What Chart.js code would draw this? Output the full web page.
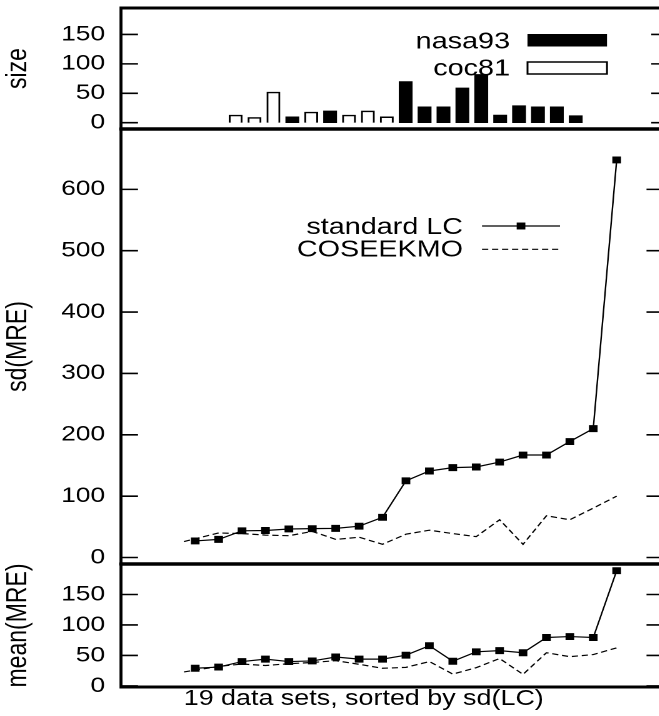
<!DOCTYPE html>
<html>
<head>
<meta charset="utf-8">
<title>sd(MRE) and mean(MRE) for 19 data sets</title>
<script src="https://cdn.jsdelivr.net/npm/chart.js@4.4.1/dist/chart.umd.min.js"></script>
<style>
  html, body { margin: 0; padding: 0; background: #fff; overflow: hidden; }
  /* the original figure is stretched sideways, so the whole drawing is too */
  #figure { position: absolute; left: 0; top: 0; width: 536px; height: 716px;
            transform: scaleX(1.25); transform-origin: 0 0; }
  #figure canvas { position: absolute; left: 0; }
  #xTitle { position: absolute; left: 0; width: 582px; top: 688px; text-align: center;
            font-family: 'Liberation Sans', Arial, sans-serif; font-size: 21.5px;
            line-height: 1; color: #000; white-space: nowrap; }
</style>
</head>
<body>
<div id="figure">
  <canvas id="sizeChart" width="536" height="140" style="top:0px"></canvas>
  <canvas id="sdChart" width="536" height="455" style="top:120px"></canvas>
  <canvas id="meanChart" width="536" height="161" style="top:555px"></canvas>
  <div id="xTitle">19 data sets, sorted by sd(LC)</div>
</div>
<script>
// data sets, sorted by sd(LC)
const setNo = [1, 2, 3, 4, 5, 6, 7, 8, 9, 10, 11, 12, 13, 14, 15, 16, 17, 18, 19];
const sizeValues = [13, 9, 52, 10, 18, 20, 13, 20, 10, 70, 27, 27, 59, 82, 13, 29, 27, 27, 12];
const sizeSource = ['coc81', 'coc81', 'coc81', 'nasa93', 'coc81', 'nasa93', 'coc81', 'coc81', 'coc81',
  'nasa93', 'nasa93', 'nasa93', 'nasa93', 'nasa93', 'nasa93', 'nasa93', 'nasa93', 'nasa93', 'nasa93'];

const sdLC = [27, 29.5, 43.5, 44, 46.5, 47, 47.5, 51, 65.5, 125, 141, 146.5, 147.5, 155.5, 167, 167, 189, 210, 648];
const meanLC = [29, 31, 40, 44, 40, 41, 47.5, 44, 44, 50.5, 66, 40.5, 56, 58, 54.5, 79.5, 81, 79.5, 189];

// the COSEEKMO curve starts a little left of the first data set
const coseekmoX = [0.52, 2, 3, 4, 5, 6, 7, 8, 9, 10, 11, 12, 13, 14, 15, 16, 17, 18, 19];
const sdCOSEEKMO = [26, 40, 39, 36.5, 35.5, 42.5, 29.5, 33, 21.5, 38, 44.5, 39, 34, 61.5, 21.5, 68, 61.5, 80.5, 100];
const meanCOSEEKMO = [23, 32, 36, 33.5, 36.5, 38.5, 41.5, 35.5, 29, 30.5, 40, 19.5, 30, 45, 19, 54.5, 48, 51.5, 62.5];

const sizeTicks = [0, 50, 100, 150];
const sdTicks = [0, 100, 200, 300, 400, 500, 600];
const meanTicks = [0, 50, 100, 150];

const S = 1.25;        // sideways stretch
const TICK = 17 / S;   // inward tick length

Chart.defaults.font.family = "'Liberation Sans', Arial, sans-serif";
Chart.defaults.color = '#000';

const points = (xs, ys) => ys.map((y, i) => ({x: xs[i], y}));
const sizesOf = src => setNo.map((x, i) => ({x, y: sizeValues[i]})).filter((p, i) => sizeSource[i] === src);

const xAxis = {type: 'linear', min: -2.17, max: 21, display: false};

function yAxis(title, min, max, ticks) {
  return {
    min, max,
    afterBuildTicks: s => { s.ticks = ticks.map(v => ({value: v})); },
    afterFit: s => {
      s.width = 121 / S;
      // labels never sit on the panel edge, no extra room needed
      s.paddingTop = 0;
      s.paddingBottom = 0;
    },
    grid: {display: false, drawTicks: false},
    border: {display: false},
    ticks: {padding: 16 / S, font: {size: 21}, autoSkip: false},
    title: {display: true, text: title, font: {size: 23}, padding: {top: 1, bottom: 0}}
  };
}

// gnuplot style box with ticks on the inside
const framePlugin = {
  id: 'frame',
  afterDraw(chart) {
    const {ctx, chartArea: a} = chart;
    const y = chart.scales.y;
    ctx.save();
    ctx.strokeStyle = '#000';
    ctx.lineWidth = 1.6;
    ctx.beginPath();
    y.ticks.forEach(t => {
      const py = y.getPixelForValue(t.value);
      ctx.moveTo(a.left, py); ctx.lineTo(a.left + TICK, py);
      ctx.moveTo(a.right, py); ctx.lineTo(a.right - TICK, py);
    });
    ctx.stroke();
    ctx.lineWidth = 3;
    ctx.beginPath();
    ctx.moveTo(a.left, a.top); ctx.lineTo(a.right, a.top);
    ctx.moveTo(a.left, a.bottom); ctx.lineTo(a.right, a.bottom);
    ctx.stroke();
    ctx.lineWidth = 2.4;
    ctx.beginPath();
    ctx.moveTo(a.left, a.top - 1.5); ctx.lineTo(a.left, a.bottom + 1.5);
    ctx.moveTo(a.right, a.top - 1.5); ctx.lineTo(a.right, a.bottom + 1.5);
    ctx.stroke();
    ctx.restore();
  }
};

// key inside the plot: label on the left, sample on the right
const keyPlugin = {
  id: 'key',
  afterDraw(chart, args, opts) {
    const ctx = chart.ctx;
    const x0 = opts.sampleLeft / S, x1 = opts.sampleRight / S;
    ctx.save();
    ctx.font = `23px ${Chart.defaults.font.family}`;
    ctx.textAlign = 'right';
    ctx.textBaseline = 'alphabetic';
    chart.data.datasets.forEach((ds, i) => {
      const row = opts.rows[i];
      ctx.fillStyle = '#000';
      ctx.fillText(ds.label, opts.textRight / S, row.baseline);
      if (chart.config.type === 'bar') {
        ctx.fillStyle = ds.backgroundColor;
        ctx.fillRect(x0, row.top, x1 - x0, row.bottom - row.top);
        if (ds.borderWidth) {
          ctx.lineWidth = ds.borderWidth;
          ctx.strokeStyle = ds.borderColor;
          ctx.strokeRect(x0, row.top, x1 - x0, row.bottom - row.top);
        }
      } else {
        ctx.strokeStyle = ds.borderColor;
        ctx.lineWidth = ds.borderWidth;
        ctx.setLineDash(ds.borderDash || []);
        ctx.beginPath();
        ctx.moveTo(x0, row.y); ctx.lineTo(x1, row.y);
        ctx.stroke();
        ctx.setLineDash([]);
        if (ds.pointRadius > 0) {
          const h = ds.pointRadius * Math.SQRT1_2 + ds.pointBorderWidth / 2;
          ctx.fillStyle = ds.pointBackgroundColor;
          ctx.fillRect((x0 + x1) / 2 - h, row.y - h, 2 * h, 2 * h);
        }
      }
    });
    ctx.restore();
  }
};

const common = {
  responsive: false,
  animation: false,
  devicePixelRatio: 2,
  events: []
};

new Chart(document.getElementById('sizeChart'), {
  type: 'bar',
  data: {
    datasets: [
      {label: 'nasa93', data: sizesOf('nasa93'), backgroundColor: '#000', borderColor: '#000', borderWidth: 0,
       barThickness: 13 / S, grouped: false},
      {label: 'coc81', data: sizesOf('coc81'), backgroundColor: '#fff', borderColor: '#000', borderWidth: 1.5,
       barThickness: 13 / S, grouped: false}
    ]
  },
  options: {
    ...common,
    layout: {padding: {top: 8, bottom: 11, left: 0, right: 1.4}},
    scales: {x: xAxis, y: yAxis('size', -10.7, 195, sizeTicks)},
    plugins: {
      legend: {display: false}, tooltip: {enabled: false},
      key: {textRight: 510, sampleLeft: 527.5, sampleRight: 607,
            rows: [{baseline: 48.5, top: 34, bottom: 46.5}, {baseline: 75.5, top: 62, bottom: 74}]}
    }
  },
  plugins: [framePlugin, keyPlugin]
});

function lineChart(id, yTitle, lc, cos, min, max, ticks, padding, key) {
  return new Chart(document.getElementById(id), {
    type: 'line',
    data: {
      datasets: [
        {label: 'standard LC', data: points(setNo, lc), borderColor: '#000', borderWidth: 1.2,
         pointStyle: 'rect', pointRadius: 4.2, pointBorderWidth: 1,
         pointBackgroundColor: '#000', pointBorderColor: '#000', tension: 0},
        {label: 'COSEEKMO', data: points(coseekmoX, cos), borderColor: '#000', borderWidth: 1.2,
         borderDash: [5, 3], pointRadius: 0, tension: 0}
      ]
    },
    options: {
      ...common,
      layout: {padding},
      scales: {x: xAxis, y: yAxis(yTitle, min, max, ticks)},
      plugins: {legend: {display: false}, tooltip: {enabled: false}, key}
    },
    plugins: key ? [framePlugin, keyPlugin] : [framePlugin]
  });
}

lineChart('sdChart', 'sd(MRE)', sdLC, sdCOSEEKMO, -10.6, 698.4, sdTicks,
  {top: 9, bottom: 11, left: 0, right: 1.4},
  {textRight: 463, sampleLeft: 482, sampleRight: 560,
   rows: [{baseline: 114, y: 106}, {baseline: 136.5, y: 129.3}]});

lineChart('meanChart', 'mean(MRE)', meanLC, meanCOSEEKMO, -1.7, 200, meanTicks,
  {top: 9, bottom: 29, left: 0, right: 1.4}, false);
</script>
</body>
</html>
